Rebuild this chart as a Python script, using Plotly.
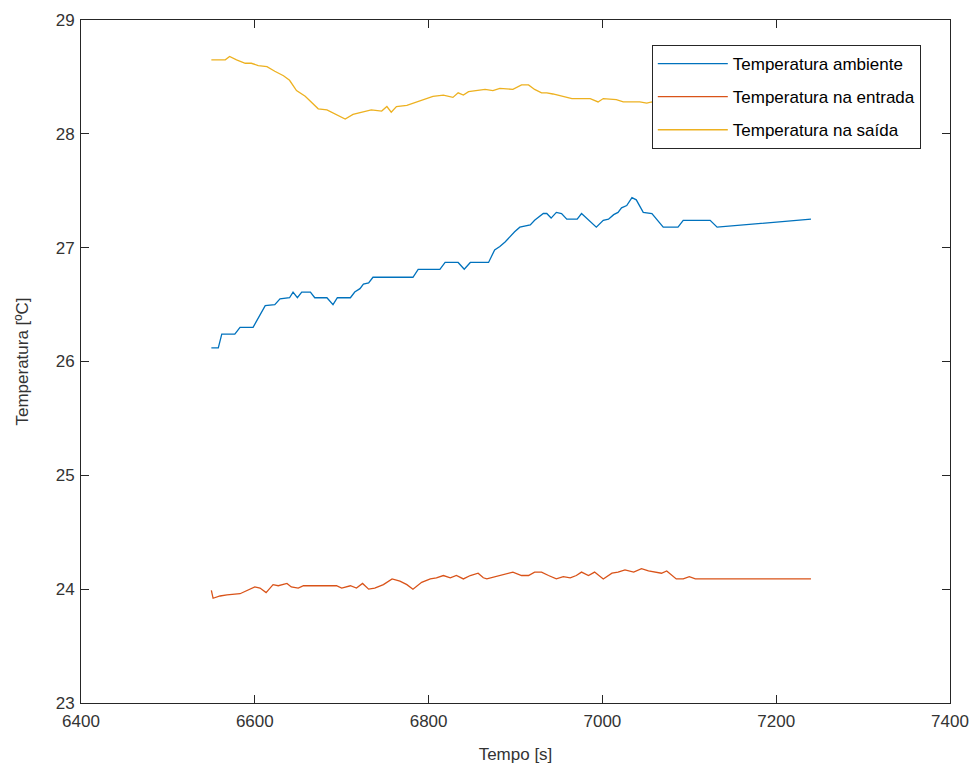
import plotly.graph_objects as go

# Temperatura ambiente
t_amb = [6550, 6558, 6562, 6577, 6583, 6598, 6612, 6623, 6629, 6640, 6644, 6649,
         6654, 6664, 6669, 6683, 6690, 6695, 6710, 6715, 6721, 6725, 6731, 6736,
         6782, 6788, 6813, 6819, 6834, 6841, 6848, 6869, 6876, 6882, 6888, 6894,
         6899, 6905, 6917, 6922, 6932, 6936, 6941, 6947, 6953, 6959, 6971, 6976,
         6982, 6993, 7001, 7007, 7013, 7018, 7022, 7028, 7034, 7039, 7047, 7057,
         7070, 7087, 7093, 7124, 7132, 7240]
T_amb = [26.12, 26.12, 26.24, 26.24, 26.30, 26.30, 26.49, 26.50, 26.55, 26.56, 26.61, 26.56,
         26.61, 26.61, 26.56, 26.56, 26.50, 26.56, 26.56, 26.61, 26.64, 26.68, 26.69, 26.74,
         26.74, 26.81, 26.81, 26.87, 26.87, 26.81, 26.87, 26.87, 26.98, 27.01, 27.05, 27.10,
         27.14, 27.18, 27.20, 27.24, 27.30, 27.30, 27.26, 27.31, 27.30, 27.25, 27.25, 27.30,
         27.26, 27.18, 27.24, 27.25, 27.29, 27.31, 27.35, 27.37, 27.44, 27.42, 27.31, 27.30,
         27.18, 27.18, 27.24, 27.24, 27.18, 27.25]

# Temperatura na entrada
t_ent = [6550, 6552, 6560, 6568, 6583, 6591, 6600, 6606, 6613, 6621, 6627, 6637,
         6642, 6650, 6656, 6694, 6700, 6710, 6717, 6724, 6731, 6738, 6748, 6758,
         6767, 6775, 6782, 6792, 6802, 6809, 6817, 6825, 6832, 6840, 6848, 6857,
         6863, 6867, 6878, 6888, 6897, 6907, 6915, 6922, 6930, 6938, 6947, 6955,
         6963, 6970, 6976, 6984, 6991, 7001, 7011, 7018, 7026, 7036, 7045, 7053,
         7060, 7068, 7074, 7080, 7085, 7093, 7100, 7107, 7240]
T_ent = [23.99, 23.92, 23.94, 23.95, 23.96, 23.99, 24.02, 24.01, 23.97, 24.04, 24.03, 24.05,
         24.02, 24.01, 24.03, 24.03, 24.01, 24.03, 24.01, 24.05, 24.00, 24.01, 24.04, 24.09,
         24.07, 24.04, 24.00, 24.06, 24.09, 24.10, 24.12, 24.10, 24.12, 24.09, 24.12, 24.14,
         24.10, 24.09, 24.11, 24.13, 24.15, 24.12, 24.12, 24.15, 24.15, 24.12, 24.09, 24.11,
         24.10, 24.12, 24.15, 24.12, 24.15, 24.09, 24.14, 24.15, 24.17, 24.15, 24.18, 24.16,
         24.15, 24.14, 24.16, 24.12, 24.09, 24.09, 24.11, 24.09, 24.09]

# Temperatura na saída
t_sai = [6550, 6566, 6571, 6579, 6589, 6596, 6604, 6614, 6623, 6633, 6640, 6648,
         6658, 6665, 6673, 6683, 6694, 6704, 6713, 6723, 6734, 6746, 6752, 6757,
         6763, 6775, 6786, 6796, 6805, 6817, 6828, 6834, 6840, 6846, 6859, 6865,
         6874, 6882, 6897, 6907, 6915, 6922, 6930, 6936, 6943, 6955, 6965, 6986,
         6995, 7001, 7016, 7024, 7043, 7051, 7057, 7066, 7090, 7130, 7240]
T_sai = [28.65, 28.65, 28.68, 28.65, 28.62, 28.62, 28.60, 28.59, 28.55, 28.51, 28.47, 28.38,
         28.33, 28.28, 28.22, 28.21, 28.17, 28.13, 28.17, 28.19, 28.21, 28.20, 28.24, 28.19,
         28.24, 28.25, 28.28, 28.31, 28.33, 28.34, 28.32, 28.36, 28.34, 28.37, 28.38, 28.39,
         28.38, 28.40, 28.39, 28.43, 28.43, 28.39, 28.36, 28.36, 28.35, 28.33, 28.31, 28.31,
         28.28, 28.31, 28.30, 28.28, 28.28, 28.27, 28.28, 28.24, 28.22, 28.20, 28.20]

x_ticks = [6400, 6600, 6800, 7000, 7200, 7400]
y_ticks = [23, 24, 25, 26, 27, 28, 29]

names = ["Temperatura ambiente", "Temperatura na entrada", "Temperatura na saída"]
colors = ["#0072BD", "#D95319", "#EDB120"]

FONT = "Liberation Sans, Arial, sans-serif"
AX = "#262626"

fig = go.Figure()
for i, (xs, ys) in enumerate([(t_amb, T_amb), (t_ent, T_ent), (t_sai, T_sai)]):
    fig.add_trace(go.Scatter(x=xs, y=ys, mode="lines", name=names[i],
                             legendgroup=f"g{i}",
                             line=dict(color=colors[i], width=1.3)))

axis_common = dict(showgrid=False, zeroline=False, showline=True, linecolor=AX,
                   linewidth=1, mirror="ticks", ticks="inside", ticklen=8,
                   tickcolor=AX, tickwidth=1, automargin=False,
                   tickfont=dict(family=FONT, size=17, color="#333333"))

fig.update_xaxes(range=[6400, 7400], tickvals=x_ticks, ticklabelstandoff=3,
                 title=dict(text="Tempo [s]", font=dict(family=FONT, size=17, color="#333333"),
                            standoff=17),
                 **axis_common)
fig.update_yaxes(range=[23, 29], tickvals=y_ticks, ticklabelstandoff=2,
                 title=dict(text="Temperatura [ºC]", font=dict(family=FONT, size=17, color="#333333"),
                            standoff=22),
                 **axis_common)

fig.update_layout(
    width=976, height=767,
    margin=dict(l=81, r=26, t=20, b=64),
    paper_bgcolor="white", plot_bgcolor="white",
    showlegend=True,
    legend=dict(x=0.9664, y=0.9634, xanchor="right", yanchor="top",
                bgcolor="white", bordercolor=AX, borderwidth=1,
                font=dict(family=FONT, size=17, color="#000000"),
                itemwidth=70, tracegroupgap=8),
)

fig.write_html("out.html")
